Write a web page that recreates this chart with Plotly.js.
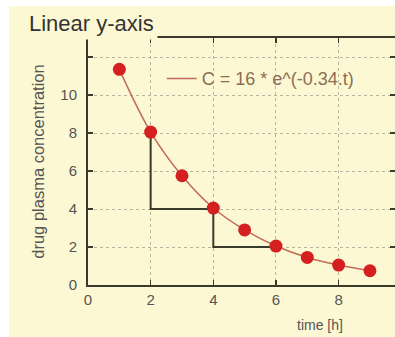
<!DOCTYPE html>
<html>
<head>
<meta charset="utf-8">
<script src="https://cdn.plot.ly/plotly-3.0.1.min.js"></script>
<style>html,body{margin:0;padding:0;background:#ffffff;}#chart{width:395px;height:337px;}</style>
</head>
<body>
<div id="chart"></div>
<script>
// Data
const timeH = [1, 2, 3, 4, 5, 6, 7, 8, 9];
const concentration = [11.35, 8.05, 5.75, 4.05, 2.9, 2.05, 1.45, 1.05, 0.75];
const stepX = [2, 2, 4, 4, 6];
const stepY = [8, 4, 4, 2, 2];
const xTicks = [0, 2, 4, 6, 8];
const yTicks = [0, 2, 4, 6, 8, 10, 12];
const yTickLabels = ['0', '2', '4', '6', '8', '10', ''];
const legendLabel = 'C = 16 * e^(-0.34.t)';

const bg = '#fcf8d3';
const traces = [
  {x: stepX, y: stepY, mode: 'lines', line: {color: '#3a3a2a', width: 2}, showlegend: false, hoverinfo: 'skip'},
  {x: timeH, y: concentration, mode: 'lines', line: {color: '#c46a5a', width: 1.5, shape: 'spline'}, name: legendLabel, showlegend: true},
  {x: timeH, y: concentration, mode: 'markers', marker: {color: '#d42020', size: 13}, showlegend: false}
];

const layout = {
  width: 395, height: 337,
  paper_bgcolor: bg, plot_bgcolor: bg,
  margin: {l: 88, r: 0, t: 38, b: 52},
  font: {family: 'Liberation Sans, Arial, sans-serif', color: '#555555', size: 14},
  xaxis: {
    range: [0, 9.8], tickvals: xTicks, ticktext: xTicks.map(String),
    showgrid: true, gridcolor: '#b8b6a0', griddash: 'dot', gridwidth: 1,
    showline: true, linecolor: '#3a3a2a', linewidth: 2, mirror: 'ticks',
    ticks: 'inside', ticklen: 5, tickcolor: '#3a3a2a', tickwidth: 1.5,
    zeroline: false, fixedrange: true,
    tickfont: {size: 15, color: '#555555'}
  },
  yaxis: {
    range: [0, 13], tickvals: yTicks, ticktext: yTickLabels,
    showgrid: true, gridcolor: '#b8b6a0', griddash: 'dot', gridwidth: 1,
    showline: true, linecolor: '#3a3a2a', linewidth: 2, mirror: 'ticks',
    ticks: 'inside', ticklen: 5, tickcolor: '#3a3a2a', tickwidth: 1.5,
    zeroline: false, fixedrange: true, ticklabelstandoff: 6,
    tickfont: {size: 15, color: '#555555'},
    title: {text: 'drug plasma concentration', font: {size: 16.5, color: '#555555'}, standoff: 12}
  },
  showlegend: true,
  legend: {x: 0.24, y: 0.835, xanchor: 'left', yanchor: 'middle', bgcolor: 'rgba(0,0,0,0)',
    font: {size: 18, color: '#8c6e55'}, itemwidth: 30},
  shapes: [
    {type: 'rect', xref: 'paper', yref: 'paper', x0: -0.2866, x1: -0.257, y0: -0.2105, y1: 1.1538,
     fillcolor: '#ffffff', line: {width: 0}, layer: 'below'},
    {type: 'rect', xref: 'paper', yref: 'paper', x0: -0.2866, x1: 1.0, y0: 1.1296, y1: 1.1538,
     fillcolor: '#ffffff', line: {width: 0}, layer: 'below'}
  ],
  annotations: [
    {text: 'Linear y-axis', xref: 'paper', yref: 'paper', x: -0.205, y: 1.057, xanchor: 'left', yanchor: 'middle',
     showarrow: false, font: {size: 22, color: '#333333'}, bgcolor: bg, borderpad: 3},
    {text: 'time [h]', xref: 'x', yref: 'paper', x: 8.2, y: -0.162, xanchor: 'right', yanchor: 'middle',
     showarrow: false, font: {size: 14, color: '#555555'}}
  ]
};

Plotly.newPlot('chart', traces, layout, {displayModeBar: false, staticPlot: true});
</script>
</body>
</html>
